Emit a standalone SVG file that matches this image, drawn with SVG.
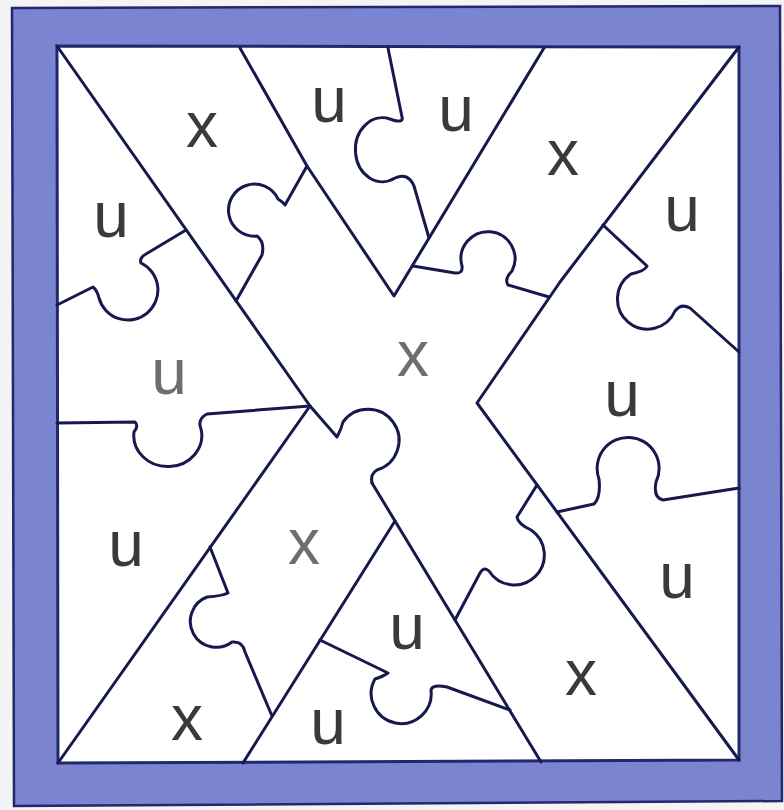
<svg xmlns="http://www.w3.org/2000/svg" width="784" height="810" viewBox="0 0 784 810">
<style>
.cut{fill:none;stroke:#16194e;stroke-width:3;stroke-linejoin:round;stroke-linecap:round}
.lbl{font-family:"Liberation Sans",Arial,sans-serif;font-size:64px;text-anchor:middle;fill:#3a3a3a}
.lt{fill:#6e6e6e}
</style>
<rect width="784" height="810" fill="#f4f4f6"/>
<g id="frame">
<polygon points="12,8 780,6 782,801 14,806" fill="#7a84d0" stroke="#23286a" stroke-width="2.5"/>
<polygon points="57,46 739,47 739,760 58,763" fill="#ffffff" stroke="#23286a" stroke-width="3"/>
</g>
<g id="cuts" class="cut">
<path d="M57,46 L310,406"/>
<path d="M58,763 L310,406"/>
<path d="M240,48 L307,166 L394,296 L544,48"/>
<path d="M739,47 L560,282 L477,403 L739,760"/>
<path d="M372,483 L541,762"/>
<path d="M395,521 L243,763"/>
<path d="M310,406 L337,437 Q341,430 343,422 A31,31 0 1 1 377,470 Q370,474 372,483"/>
<path d="M57,305 L93,287 Q97,290 99,298 A30,30 0 1 0 141,263 Q139,258 146,254 L186,230"/>
<path d="M307,166 L285,205 Q283,202 278,199 A26,26 0 1 0 257,236 Q265,242 262,255 L236,301"/>
<path d="M388,48 L402,117 Q404,124 390,119 A27,32 0 1 0 395,178 Q408,172 414,186 L429,238"/>
<path d="M413,266 L455,273 Q463,274 462,266 A27,27 0 1 1 512,271 Q504,279 508,285 L549,297"/>
<path d="M603,225 L647,266 Q645,271 631,274 A30,30 0 1 0 675,311 Q681,303 690,308 L739,352"/>
<path d="M557,512 L594,504 Q601,497 599,479 A31,31 0 1 1 656,482 Q653,498 663,500 L739,488"/>
<path d="M537,485 L517,517 Q518,524 531,530 A30,30 0 1 1 489,571 Q484,566 480,573 L455,620"/>
<path d="M320,640 L388,673 Q384,676 375,679 A30,30 0 1 0 431,690 Q432,684 447,687 L510,710"/>
<path d="M57,423 L135,422 Q139,426 134,432 A34,31 0 1 0 201,429 Q197,419 207,414 L310,406"/>
<path d="M210,547 L228,593 Q222,596 207,597 A26,26 0 1 0 232,642 Q243,641 245,652 L272,716"/>
</g>
<g id="labels" class="lbl">
<text id="p1" x="202" y="147">x</text>
<text id="p2" x="329" y="122">u</text>
<text id="p3" x="456" y="131">u</text>
<text id="p4" x="563" y="175">x</text>
<text id="p5" x="682" y="231">u</text>
<text id="p6" x="111" y="237">u</text>
<text id="p7" class="lt" x="169" y="394">u</text>
<text id="p8" class="lt" x="413" y="376">x</text>
<text id="p9" x="622" y="416">u</text>
<text id="p10" x="126" y="566">u</text>
<text id="p11" class="lt" x="304" y="564">x</text>
<text id="p12" x="677" y="598">u</text>
<text id="p13" x="407" y="649">u</text>
<text id="p14" x="581" y="695">x</text>
<text id="p15" x="187" y="740">x</text>
<text id="p16" x="328" y="744">u</text>
</g>
</svg>
